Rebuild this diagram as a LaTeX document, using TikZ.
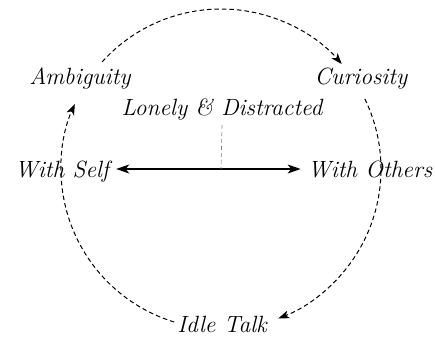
\documentclass[tikz,border=0pt]{standalone}
\usepackage{fontspec}
\usetikzlibrary{arrows.meta,calc}
\tikzset{
  lbl/.style={font=\fontsize{23.5}{28}\selectfont\itshape, anchor=base, inner xsep=7pt, inner ysep=4pt},
  flow/.style={line width=1pt, dash pattern=on 4.5pt off 3pt, -{Stealth[length=11pt,width=8pt,inset=3pt]}},
  link/.style={line width=1.2pt, {Stealth[length=13pt,width=9pt,inset=3.5pt]}-{Stealth[length=13pt,width=9pt,inset=3.5pt]}},
  guide/.style={gray, line width=0.6pt, dash pattern=on 4pt off 3pt}
}
\begin{document}
\begin{tikzpicture}[x=1pt,y=1pt]
  \useasboundingbox (0,0) rectangle (435,340);
  \coordinate (c) at (221,171);
  \node[lbl] (amb) at (80,255) {Ambiguity};
  \node[lbl] (cur) at (361,255) {Curiosity};
  \node[lbl] (lonely) at (222,224) {Lonely \& Distracted};
  \node[lbl] (self) at (62,162) {With Self};
  \node[lbl] (others) at (370,162) {With Others};
  \node[lbl] (idle) at (222,8) {Idle Talk};
  % circle arcs (free ends as named coordinates)
  \coordinate (s1) at ($(c)+(138:160)$);
  \coordinate (s2) at ($(c)+(26:160)$);
  \coordinate (s3) at ($(c)+(253:160)$);
  \draw[flow] (s1) arc[start angle=138, end angle=41, radius=160];
  \draw[flow] (s2) arc[start angle=26, end angle=-69, radius=160];
  \draw[flow] (s3) arc[start angle=253, end angle=156, radius=160];
  \draw[link] (self.east |- c) -- (others.west |- c);
  \draw[guide] (lonely.south) -- (c);
\end{tikzpicture}
\end{document}
